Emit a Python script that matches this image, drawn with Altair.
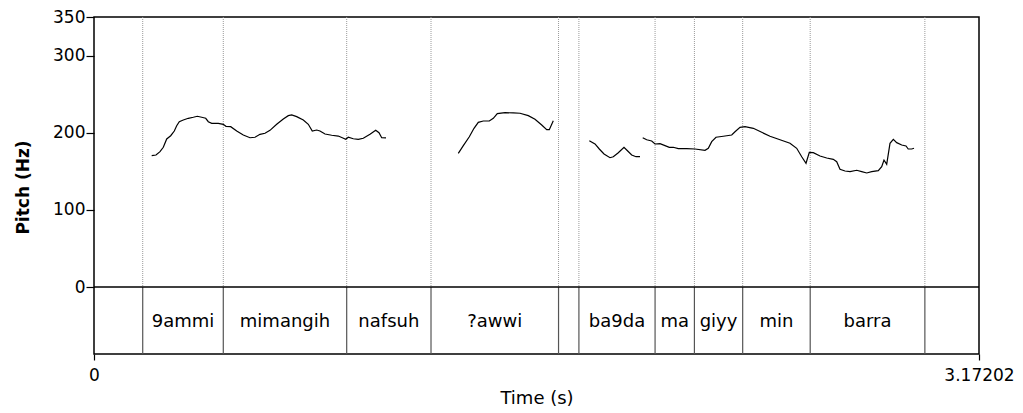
import altair as alt
import pandas as pd

# Total duration of the recording (s)
DURATION = 3.17202
TIER_BOTTOM = -86.85  # lower edge of the word tier, in the pitch scale's units

# Word-tier interval boundaries (s) and the labels of the intervals between them
boundaries = [0.1746, 0.4634, 0.9057, 1.2079, 1.665, 1.738, 2.011, 2.152, 2.325, 2.567, 2.978]
words = ["", "9ammi", "mimangih", "nafsuh", "?awwi", "", "ba9da", "ma", "giyy", "min", "barra", ""]

# Pitch track, one voiced stretch per list pair
seg1_t = [0.2068, 0.2222, 0.2366, 0.2484, 0.2606, 0.2749, 0.2878, 0.2964, 0.3057, 0.3201,
          0.3380, 0.3559, 0.3703, 0.3860, 0.4004, 0.4097, 0.4219, 0.4455, 0.4634, 0.4731,
          0.4900, 0.5115, 0.5351, 0.5591, 0.5771, 0.5950, 0.6129, 0.6308, 0.6548, 0.6785,
          0.6964, 0.7086, 0.7265, 0.7502, 0.7681, 0.7824, 0.7982, 0.8100, 0.8280, 0.8520,
          0.8756, 0.8900, 0.9022, 0.9115, 0.9294, 0.9473, 0.9652, 0.9892, 1.0097, 1.0215,
          1.0312, 1.0466]
seg1_f = [170.2, 171.1, 175.4, 181.1, 191.9, 196.1, 202.2, 209.1, 214.3, 216.5,
          218.7, 220.0, 221.3, 220.0, 218.7, 214.3, 212.2, 212.2, 210.9, 208.3,
          207.8, 202.2, 197.0, 193.5, 194.1, 197.9, 199.3, 203.1, 210.9, 217.8,
          222.1, 223.0, 220.8, 216.5, 210.9, 202.2, 203.5, 202.2, 198.3, 196.7,
          195.7, 193.5, 191.5, 194.1, 192.2, 191.5, 192.8, 198.0, 203.1, 200.0,
          193.5, 193.2]

seg2_t = [1.3057, 1.3237, 1.3452, 1.3620, 1.3774, 1.3953, 1.4168, 1.4312, 1.4455, 1.4731,
          1.5029, 1.5269, 1.5566, 1.5806, 1.6047, 1.6226, 1.6319, 1.6462]
seg2_f = [173.3, 183.2, 194.8, 205.7, 213.5, 215.2, 215.2, 218.7, 224.7, 226.0,
          225.6, 225.2, 222.1, 217.4, 210.0, 203.9, 203.9, 215.6]

seg3_t = [1.7753, 1.7957, 1.8111, 1.8280, 1.8495, 1.8613, 1.8792, 1.8996, 1.9129, 1.9272,
          1.9427, 1.9570]
seg3_f = [189.7, 185.4, 178.9, 172.4, 167.6, 168.9, 174.1, 181.1, 176.3, 171.1,
          168.9, 168.9]

seg4_t = [1.9667, 1.9810, 1.9989, 2.0108, 2.0287, 2.0466, 2.0620, 2.0763, 2.0943, 2.1244,
          2.1541, 2.1900, 2.2018, 2.2140, 2.2294, 2.2556, 2.2857, 2.2975, 2.3154, 2.3333,
          2.3631, 2.3932, 2.4229, 2.4588, 2.4946, 2.5186, 2.5366, 2.5520, 2.5638, 2.5781,
          2.6022, 2.6262, 2.6498, 2.6620, 2.6738, 2.6918, 2.7097, 2.7337, 2.7516, 2.7696,
          2.7875, 2.8111, 2.8233, 2.8315, 2.8412, 2.8530, 2.8649, 2.8771, 2.8950, 2.9104,
          2.9183, 2.9308, 2.9391]
seg4_f = [193.5, 190.9, 189.3, 185.4, 185.8, 183.2, 181.1, 181.1, 179.3, 179.3,
          178.9, 177.2, 179.8, 188.4, 194.1, 195.4, 197.0, 201.3, 207.0, 207.8,
          205.7, 200.5, 195.4, 190.9, 186.3, 179.8, 168.9, 160.4, 174.6, 174.1,
          169.8, 167.2, 165.5, 162.4, 152.6, 150.4, 149.5, 151.3, 149.5, 147.8,
          149.5, 150.8, 156.0, 164.6, 159.1, 186.3, 191.5, 187.1, 184.1, 182.8,
          178.9, 178.9, 179.8]

FONT = "DejaVu Sans"

pitch = pd.concat([
    pd.DataFrame({"t": t, "f0": f, "seg": i})
    for i, (t, f) in enumerate([(seg1_t, seg1_f), (seg2_t, seg2_f),
                                (seg3_t, seg3_f), (seg4_t, seg4_f)])
])

edges = [0.0] + boundaries + [DURATION]
intervals = pd.DataFrame({
    "start": edges[:-1],
    "end": edges[1:],
    "word": words,
})
intervals["mid"] = (intervals["start"] + intervals["end"]) / 2

bounds = pd.DataFrame({"t": boundaries})

x_scale = alt.Scale(domain=[0, DURATION], nice=False, zero=False)
y_scale = alt.Scale(domain=[TIER_BOTTOM, 350], nice=False, zero=False)

x_axis = alt.Axis(
    values=[0, DURATION], format=".6~g", title="Time (s)", grid=False, domain=False,
    tickSize=6, tickColor="black", tickWidth=1.2, labelPadding=7, labelFlush=False,
    labelFont=FONT, labelFontSize=17, labelColor="black",
    titleFont=FONT, titleFontSize=18, titleFontWeight="normal", titleColor="black",
    titleBaseline="alphabetic", titleY=49.5,
)
y_axis = alt.Axis(
    values=[0, 100, 200, 300, 350], title="Pitch (Hz)", grid=False, domain=False,
    tickSize=8, tickColor="black", tickWidth=1.2, labelPadding=1,
    labelFont=FONT, labelFontSize=17, labelColor="black", labelBaseline="middle",
    titleFont=FONT, titleFontSize=17, titleFontWeight="bold", titleColor="black",
    titleAngle=-90, titleAlign="center", titleBaseline="alphabetic",
    titleX=-66, titleY=170,
)

# Dotted interval boundaries across the pitch area
dotted = alt.Chart(bounds).mark_rule(color="#9a9a9a", strokeWidth=1, strokeDash=[1, 1]).encode(
    x=alt.X("t:Q", scale=x_scale, axis=x_axis),
    y=alt.datum(350, scale=y_scale, axis=y_axis),
    y2=alt.datum(0),
)

# Solid interval boundaries inside the word tier
solid = alt.Chart(bounds).mark_rule(color="#555555", strokeWidth=1.2).encode(
    x=alt.X("t:Q", scale=x_scale),
    y=alt.datum(0, scale=y_scale),
    y2=alt.datum(TIER_BOTTOM),
)

# Line separating the pitch area from the tier
zero_line = alt.Chart(pd.DataFrame({"y": [0]})).mark_rule(color="black", strokeWidth=1.4).encode(
    x=alt.datum(0, scale=x_scale),
    x2=alt.datum(DURATION),
    y=alt.Y("y:Q", scale=y_scale),
)

track = alt.Chart(pitch).mark_line(color="black", strokeWidth=1.2).encode(
    x=alt.X("t:Q", scale=x_scale),
    y=alt.Y("f0:Q", scale=y_scale),
    detail="seg:N",
    order="t:Q",
)

labels = alt.Chart(intervals).mark_text(
    font=FONT, fontSize=18, color="black", baseline="alphabetic", align="center"
).encode(
    x=alt.X("mid:Q", scale=x_scale),
    y=alt.value(309.7),
    text="word:N",
)

chart = alt.layer(dotted, solid, zero_line, track, labels).properties(
    width=885,
    height=337,
    autosize=alt.AutoSizeParams(type="none"),
    padding={"left": 94, "top": 17, "right": 44, "bottom": 59},
    background="white",
).configure_view(stroke="black", strokeWidth=1.5)

chart.save("out.html", embed_options={"renderer": "svg", "actions": False})
